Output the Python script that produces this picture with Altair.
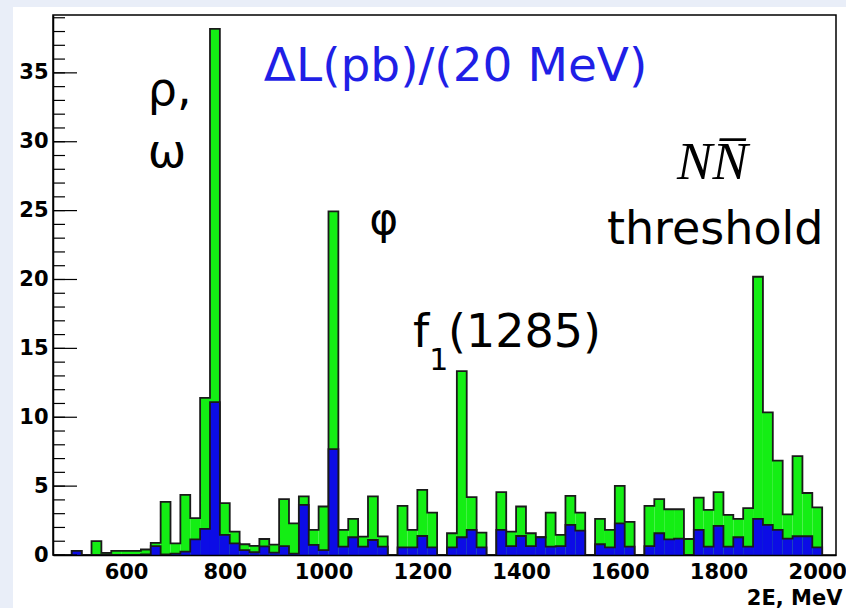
import altair as alt
import pandas as pd

# ---- data ----
bin_centers = list(range(500, 2001, 20))  # 20 MeV bins
total_lumi = [0.3, 0, 1.0, 0.15, 0.3, 0.3, 0.3, 0.4, 0.88, 3.85,
              0.85, 4.37, 2.67, 11.4, 38.2, 3.76, 1.70, 0.78, 0.66, 1.16,
              0.75, 4.05, 2.3, 4.25, 1.82, 3.52, 24.95, 1.82, 2.62, 1.33,
              4.25, 1.35, 0, 3.57, 1.82, 4.73, 3.08, 0, 1.58, 13.35,
              4.2, 1.63, 0, 4.56, 1.70, 3.52, 1.58, 1.29, 3.08, 1.46,
              4.29, 3.08, 0, 2.62, 1.82, 5.02, 2.4, 0, 3.57, 4.05,
              3.32, 3.32, 1.16, 4.17, 3.28, 4.56, 2.91, 2.62, 3.4, 20.2,
              10.36, 6.85, 2.95, 7.18, 4.5, 3.45]
blue_lumi = [0.3, 0, 0, 0.05, 0, 0, 0, 0.05, 0.65, 0.05,
             0.1, 0.24, 1.14, 1.89, 11.1, 1.46, 0.85, 0.36, 0.2, 0.63,
             0.17, 0.65, 0.1, 3.64, 0.73, 0.36, 7.69, 0.61, 1.29, 0.61,
             1.09, 0.61, 0, 0.56, 0.56, 1.38, 0.56, 0, 0.56, 1.29,
             1.82, 0.56, 0, 1.82, 0.65, 1.38, 0.65, 1.29, 0.61, 0.65,
             2.18, 1.77, 0, 0.78, 0.56, 2.3, 0.61, 0, 0.65, 1.58,
             1.14, 1.19, 0, 1.82, 0.61, 2.11, 0.61, 1.29, 0.61, 2.62,
             2.18, 1.82, 1.19, 1.36, 1.36, 0.56]
bin_width = 20
x_ticks = [600, 800, 1000, 1200, 1400, 1600, 1800, 2000]
y_labels = [0, 5, 10, 15, 20, 25, 30, 35]
y_minor = list(range(0, 40))
x_domain = [452, 2038]
y_domain = [0, 39.2]

W, H = 783, 540
GREEN = "#14ee14"
BLUE = "#0c0ce6"
EDGE = "#1a1a1a"
PAGE = "#e9eef8"

bars = pd.DataFrame({
    "lo": [c - bin_width / 2 for c in bin_centers],
    "hi": [c + bin_width / 2 for c in bin_centers],
    "total": total_lumi,
    "blue": blue_lumi,
})


def step_frame(values):
    rows = [{"x": bin_centers[0] - bin_width / 2, "y": 0, "i": 0}]
    for k, (c, v) in enumerate(zip(bin_centers, values)):
        rows.append({"x": c - bin_width / 2, "y": v, "i": k + 1})
    rows.append({"x": bin_centers[-1] + bin_width / 2, "y": 0, "i": len(values) + 1})
    return pd.DataFrame(rows)


xs = alt.Scale(domain=x_domain, nice=False, zero=False)
ys = alt.Scale(domain=y_domain, nice=False, zero=True)

X_AX = alt.Axis(values=x_ticks, format="d", labelFont="DejaVu Sans",
                labelFontWeight="bold", labelFontSize=21, labelColor="black",
                labelPadding=6, ticks=False,
                grid=False, domainColor="black", domainWidth=1.5, zindex=1,
                labelOverlap=False, labelFlush=False,
                title="2E, MeV", titleFont="DejaVu Sans", titleFontWeight="bold",
                titleFontSize=21, titleColor="black", titleAlign="right",
                titleAnchor="end", titleBaseline="alphabetic", titleX=W + 6, titleY=49)
Y_AX = alt.Axis(values=y_labels, format="d", labelFont="DejaVu Sans",
                labelFontWeight="bold", labelFontSize=21, labelColor="black",
                labelPadding=5, ticks=False,
                grid=False, domainColor="black", domainWidth=1.5, title=None, zindex=1,
                labelFlush=False)

one = pd.DataFrame({"a": [0]})
strip_left = alt.Chart(one).mark_rect(color=PAGE).encode(
    x=alt.value(-60), x2=alt.value(-40), y=alt.value(-20), y2=alt.value(H + 60))
strip_top = alt.Chart(one).mark_rect(color=PAGE).encode(
    x=alt.value(-60), x2=alt.value(W + 20), y=alt.value(-20), y2=alt.value(-8))

green_bars = alt.Chart(bars).mark_rect(color=GREEN).encode(
    x=alt.X("lo:Q", scale=xs, axis=X_AX), x2="hi:Q",
    y=alt.Y("total:Q", scale=ys, axis=Y_AX), y2=alt.datum(0))
blue_bars = alt.Chart(bars).mark_rect(color=BLUE).encode(
    x=alt.X("lo:Q", scale=xs), x2="hi:Q", y=alt.Y("blue:Q", scale=ys), y2=alt.datum(0))

green_step = alt.Chart(step_frame(total_lumi)).mark_line(
    interpolate="step-after", color=EDGE, strokeWidth=1.8).encode(
    x=alt.X("x:Q", scale=xs), y=alt.Y("y:Q", scale=ys), order="i:Q")
blue_step = alt.Chart(step_frame(blue_lumi)).mark_line(
    interpolate="step-after", color=EDGE, strokeWidth=1.8).encode(
    x=alt.X("x:Q", scale=xs), y=alt.Y("y:Q", scale=ys), order="i:Q")

minor_ticks = alt.Chart(pd.DataFrame({"t": y_minor})).mark_rule(
    color="black", strokeWidth=1.2).encode(
    y=alt.Y("t:Q", scale=ys), x=alt.value(0), x2=alt.value(12))
major_ticks = alt.Chart(pd.DataFrame({"t": y_labels})).mark_rule(
    color="black", strokeWidth=1.2).encode(
    y=alt.Y("t:Q", scale=ys), x=alt.value(0), x2=alt.value(24))


def label(text, x, y, size, color="black", font="DejaVu Sans", style="normal", align="left"):
    return alt.Chart(pd.DataFrame({"x": [x], "y": [y], "t": [text]})).mark_text(
        font=font, fontSize=size, color=color, fontStyle=style, align=align,
        baseline="alphabetic").encode(
        x=alt.X("x:Q", scale=xs), y=alt.Y("y:Q", scale=ys), text="t:N")


texts = [
    label("ΔL(pb)/(20 MeV)", 879, 34.4, 47, color="#1f1fe6"),
    label("ρ,", 644, 32.7, 46),
    label("ω", 644, 28.2, 46),
    label("φ", 1122, 23.3, 44, align="center"),
    label("f", 1181, 15.1, 46),
    label("1", 1214, 13.4, 30),
    label("(1285)", 1252, 15.1, 46),
    label("threshold", 1574, 22.6, 46),
    label("NN\u0305", 1716, 27.3, 53, font="Liberation Serif", style="italic"),
]

chart = alt.layer(strip_left, strip_top, green_bars, green_step, blue_bars, blue_step,
                  minor_ticks, major_ticks, *texts).properties(
    width=W, height=H,
    padding={"left": 53, "top": 15, "right": 10, "bottom": 53},
    autosize=alt.AutoSizeParams(type="none"),
    background="white",
).configure_view(stroke="black", strokeWidth=1.5)

chart.save("out.html", embed_options={"renderer": "svg", "actions": False})
